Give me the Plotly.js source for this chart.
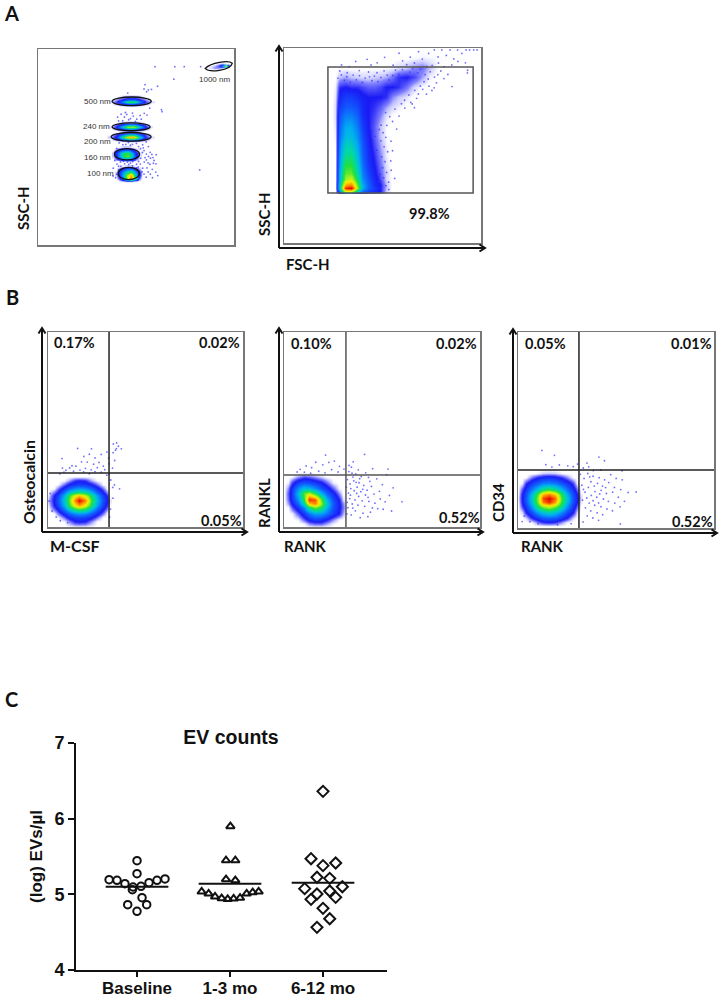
<!DOCTYPE html>
<html><head><meta charset="utf-8">
<script src="https://cdn.plot.ly/plotly-3.0.1.min.js"></script>
<style>html,body{margin:0;padding:0;background:#fff}</style></head>
<body><div id="chart" style="width:722px;height:1000px"></div>
<script>
// ---------- Panel C values ----------
const categories=['Baseline','1-3 mo','6-12 mo'];
const baselineX=[0,0,-.3,-.215,-.13,-.043,.129,.215,.301,.043,-.05,.054,-.100,.104,0];
const baselineY=[5.445,5.273,5.194,5.185,5.141,5.097,5.154,5.185,5.203,5.106,5.062,4.956,4.863,4.863,4.775];
const month1X=[1.004,.957,1.057,.957,1.057,.695,.77,.839,.91,.975,1.039,1.108,1.179,1.244,1.308];
const month1Y=[5.899,5.449,5.449,5.198,5.185,5.035,5.009,4.969,4.947,4.938,4.943,4.952,5.009,5.026,5.035];
const month6X=[2,1.871,2.136,2,1.935,2.072,1.803,2.208,1.935,2.072,1.871,2.136,2,2.072,1.935];
const month6Y=[6.361,5.471,5.414,5.379,5.225,5.211,5.075,5.101,5.004,5.044,4.934,4.960,4.815,4.678,4.564];
const meansC=[5.10,5.14,5.154];

// ---------- Gates ----------
const beadGates=[[92.2,91.1,6.9,2.0],[47.8,73.3,10,2.2],[47.5,60.3,9.7,2.0],[47.5,55.2,10.2,2.2],[45.4,46.3,6.4,2.9],[46.3,36.5,5.4,3.1]];
const gateA2=[22.3,96,25.6,90.3];
const quadB1=[31.3,27.7], quadB2=[31.6,26.7], quadB3=[31.1,29.6];

// ---------- Density grids (0-10) ----------
const d500x=[37.5,40,43,46,49,52,55,58], d500y=[71,72.2,73.3,74.4,75.6];
const d500z=[[0,0,.2,.5,.5,.2,0,0],[0,.4,1,2,2,1,.4,0],[.2,.8,2.5,5,5,2.6,.8,.2],[0,.4,1,2,2,1,.4,0],[0,0,.2,.4,.4,.2,0,0]];
const d240x=[37.5,40,43,46,49,52,55,57.5], d240y=[58.2,59.2,60.3,61.4,62.4];
const d240z=[[0,0,.3,.6,.6,.3,0,0],[0,.6,1.5,3,3,1.5,.5,0],[.2,1,3.5,6,6,3.5,1,.2],[0,.6,1.5,3,3,1.5,.5,0],[0,0,.3,.5,.5,.2,0,0]];
const d200x=[37,40,43,46,49,52,55,58], d200y=[52.9,54,55.2,56.4,57.5];
const d200z=[[0,0,.3,.6,.6,.3,0,0],[0,.8,2,3.5,3.5,1.8,.6,0],[.3,1.4,4.5,7.8,7.8,4,1,.2],[0,.8,2,3.2,3.2,1.8,.6,0],[0,0,.3,.6,.6,.2,0,0]];
const d160x=[38.5,40,42,44,46,48,50,52], d160y=[42.8,44,45.5,47,48.5,49.8];
const d160z=[[0,0,0,.3,.4,.3,0,0],[0,.6,1.5,2.5,2.8,1.8,.6,0],[.3,1.2,3,5,5.5,3.5,1.2,.2],[.3,1.2,3,4.8,5,3,1.2,.2],[0,.6,1.5,2,2.2,1.4,.5,0],[0,0,.1,.3,.3,.1,0,0]];
const d100x=[40,41.5,43.5,45.5,47.5,49.5,51.5,53], d100y=[32.8,34,35.5,37,38.5,40];
const d100z=[[0,0,.3,.8,.8,.3,0,0],[0,.8,2.5,6,8.5,5,.8,0],[.2,1.2,3,6,8,4,1.2,.2],[.2,1.2,2.6,4.2,5,3,1.2,.2],[0,.6,1.5,2.2,2.5,1.6,.5,0],[0,0,.1,.3,.3,.1,0,0]];
const d1000x=[85,88,90,92,94,95.5,98], d1000y=[89.5,90.5,91.5,92.5,93.2];
const d1000z=[[0,0,0,0,0,0,0],[0,.2,.5,.5,.3,.2,0],[0,.1,.3,.8,3,7,0],[0,0,0,.2,.5,.2,0],[0,0,0,0,0,0,0]];

const a2x=[24,26,28,31,34,37,40,43,46,49,52,55,58,62,66,70,74,78,82,86,90,94,98];
const a2y=[25,26,28,30,33,36,40,45,50,55,60,65,70,75,80,85,90,95,99];
const a2z=[
[0,0,0,0,0,0,0,0,0,0,0,0,0,0,0,0,0,0,0,0,0,0,0],
[0,0,2,6,6,3,2,1.5,1.2,1,.2,0,0,0,0,0,0,0,0,0,0,0,0],
[0,0,3.5,9.5,10,6,3,2,1.5,1,.3,0,0,0,0,0,0,0,0,0,0,0,0],
[0,0,3.5,8,8.5,5.5,3,2,1.3,1,.3,0,0,0,0,0,0,0,0,0,0,0,0],
[0,0,3,6,6.5,4.5,2.6,1.8,1.2,.8,.2,0,0,0,0,0,0,0,0,0,0,0,0],
[0,0,3,5.5,5.5,4,2.4,1.6,1.1,.7,.2,0,0,0,0,0,0,0,0,0,0,0,0],
[0,0,2.8,5,5,3.6,2.2,1.4,1,.6,.15,0,0,0,0,0,0,0,0,0,0,0,0],
[0,0,2.6,4.2,4.3,3.2,2,1.3,.9,.5,.1,0,0,0,0,0,0,0,0,0,0,0,0],
[0,.05,2.4,3.8,3.8,2.9,1.9,1.2,.8,.4,.1,0,0,0,0,0,0,0,0,0,0,0,0],
[0,.1,2.2,3.2,3.2,2.6,1.7,1.1,.7,.3,.05,0,0,0,0,0,0,0,0,0,0,0,0],
[0,.15,2,2.9,2.9,2.3,1.5,1,.7,.3,.05,0,0,0,0,0,0,0,0,0,0,0,0],
[0,.2,1.8,2.4,2.4,2,1.3,1,.8,.5,.15,.03,0,0,0,0,0,0,0,0,0,0,0],
[0,.2,1.5,1.9,1.9,1.7,1.2,1,.9,.7,.4,.2,.1,0,0,0,0,0,0,0,0,0,0],
[0,.15,1.2,1.5,1.5,1.3,1.1,1,1,1,.9,.5,.3,.15,0,0,0,0,0,0,0,0,0],
[0,.1,.9,1,.9,.9,.8,.7,.7,.8,1,1,.9,.6,.2,.03,0,0,0,0,0,0,0],
[0,.03,.3,.4,.3,.25,.2,.2,.25,.3,.4,.6,.9,1,.8,.4,.1,0,0,0,0,0,0],
[0,0,.03,.03,.02,.02,.02,.02,.03,.03,.05,.1,.2,.3,.5,.6,.3,.05,0,0,0,0,0],
[0,0,0,0,0,0,0,0,0,0,0,0,.02,.03,.05,.1,.08,.05,.05,.03,.02,0,0],
[0,0,0,0,0,0,0,0,0,0,0,0,0,0,0,0,0,0,0,0,0,0,0]];

const b1x=[0,3,5,8,11,14,16,19,22,25,28,30,32];
const b1y=[0,3,5,7,9,11,13.5,16,18,20,22,24,26];
const b1z=[
[0,0,0,0,0,0,0,0,0,0,0,0,0],
[0,0,0,.05,.5,1,1.1,1,.5,.05,0,0,0],
[0,0,.05,.6,1.2,1.5,1.6,1.5,1.2,.6,.05,0,0],
[0,.05,.6,1.3,2,2.6,2.8,2.6,2,1.3,.6,.05,0],
[0,.6,1.1,2.2,3.4,4.6,5,4.6,3.2,2,1.1,.5,0],
[.1,1,1.6,3,5,7,8,6.8,4.8,2.8,1.5,.9,.05],
[.3,1.1,1.9,3.4,5.5,8.5,10,8.5,5.3,3.2,1.8,1.1,.15],
[.1,1,1.6,3,5,6.8,7.5,6.5,4.6,2.8,1.5,.9,.05],
[0,.6,1.1,2.2,3.4,4.4,4.6,4.3,3.2,2,1.1,.5,0],
[0,.05,.6,1.3,2,2.5,2.7,2.5,2,1.3,.6,.05,0],
[0,0,.05,.6,1.1,1.4,1.5,1.4,1.1,.6,.05,0,0],
[0,0,0,.05,.4,.9,1,.9,.4,.05,0,0,0],
[0,0,0,0,0,0,0,0,0,0,0,0,0]];

const b2x=[0,2,4,7,10,13,16,19,22,25,28,30,32];
const b2y=[0,2,4,7,10,12,14,17,20,23,26,28];
const b2z=[
[0,0,0,0,0,0,0,0,0,0,0,0,0],
[0,0,0,0,.1,.5,.7,.7,.4,.1,0,0,0],
[0,0,0,.1,.7,1.2,1.5,1.4,1,.5,.1,0,0],
[0,0,.1,.7,1.4,2.2,2.9,2.8,2.2,1.5,1,.4,0],
[0,.05,.7,1.4,2.5,4.4,5.6,4.8,3,1.8,1.1,.6,.05],
[0,.4,1.1,2,4,7.5,8.5,6,3.4,1.9,1.1,.5,.05],
[0,.6,1.4,2.6,5,9.5,9,5.5,3,1.7,1,.2,0],
[0,.7,1.5,3.2,5.5,6.5,5,3.2,2,1.3,.5,.03,0],
[0,.5,1.4,2.6,3.4,3.2,2.6,1.9,1.3,.7,.1,0,0],
[0,.1,.8,1.5,1.8,1.7,1.4,1.1,.6,.1,0,0,0],
[0,0,.05,.4,.7,.6,.4,.2,0,0,0,0,0],
[0,0,0,0,0,0,0,0,0,0,0,0,0]];

const b3x=[0,2,4,7,10,13,16,19,22,25,28,30,32];
const b3y=[1,3,5,8,11,13,15,17,20,23,26,28,30];
const b3z=[
[0,0,0,0,0,0,0,0,0,0,0,0,0],
[0,0,0,.1,.6,.9,1,.9,.5,.1,0,0,0],
[0,0,.2,.9,1.4,1.8,1.9,1.8,1.4,.9,.2,0,0],
[0,.2,1,1.8,2.8,3.4,3.8,3.4,2.6,1.7,1,.2,0],
[0,.8,1.5,2.8,4.8,6,6.6,5.8,4.4,2.6,1.4,.7,0],
[.05,1,1.8,3.4,5.8,8.5,9.5,8,5.2,3.2,1.7,1,.1],
[.1,1.1,1.9,3.6,6,9.2,10,8.8,5.5,3.4,1.8,1.2,.15],
[.05,1,1.8,3.3,5.5,7.8,8.5,7.5,5,3,1.7,1,.1],
[0,.7,1.4,2.4,3.4,4.4,4.8,4.2,3.2,2.2,1.3,.6,0],
[0,.1,.9,1.5,2,2.4,2.5,2.3,1.9,1.4,.8,.1,0],
[0,0,.05,.6,1,1.2,1.3,1.2,.9,.5,.05,0,0],
[0,0,0,0,.1,.25,.3,.25,.1,0,0,0,0],
[0,0,0,0,0,0,0,0,0,0,0,0,0]];

// ---------- Sparse events ----------
const a1Dots=[[59.7,91],[69.8,91],[74.6,91],[83,91],[69.3,84.6],[61,81],[54.6,81.8],[56.3,79.1],[54.1,79.6],[57.9,79.4],[45.8,77.5],[55.4,78.2],[57,69.8],[63,69],[63.3,68],[82.5,38.3],[40.6,65.2],[42.4,66.7],[44.1,65.3],[45.3,66.6],[47.2,64.5],[48.6,65.8],[50.4,64.2],[52.1,66.1],[54.2,67.2],[55.6,66.3],[43.2,63.4],[46.3,63.9],[49.7,63.1],[52.7,64.2],[41.1,63.3],[44.6,67.6],[48.2,67.3],[43.3,51.2],[46.1,52.3],[50.2,51.8],[53.4,51.1],[55.2,52.6],[56.3,50.2],[41.4,52.1],[48.2,51.3],[52.3,49.1],[54.1,48.2],[55.3,46.4],[57.2,47.3],[58.1,46.2],[60.3,46.1],[57.4,44.3],[59.2,43.1],[55.3,43.4],[57.1,41.2],[60.2,41.4],[58.3,38.6],[60.1,37.2],[56.2,37.3],[54.1,36.2],[55.2,34.6],[58.4,34.3],[61.1,35.4],[53.4,39.2],[55.6,39.3],[54.2,42.3],[52.2,41.3],[39.2,43.1],[40.3,41.3],[38.4,39.2],[41.2,38.3],[40.1,36.1],[38.3,35.2],[39.6,34.3],[42.3,40.2],[44.2,41.4],[46.3,41.1],[48.2,40.3],[50.3,41.2],[44.4,39.2],[48.3,42.6],[39.1,47.3],[52.4,44.2],[40.2,49.3],[53.3,47.2],[42.1,42.4],[50.2,39.4],[43.6,42.7],[45.6,42.3],[47.2,41.8],[49.4,43.4],[51.3,42.6],[41.1,40.2],[43.1,38.9],[47.3,39.2],[51.1,39.8],[53.1,37.4],[57.3,36.1],[56.4,45.2],[58.7,44.6],[54.6,44.6],[56.2,41.9],[58.9,41.7],[53.7,49.6],[44.8,51.3],[47.1,50.9],[51.3,50.2]];
const a2Dots=[[29.2,91.3],[36.4,93.1],[42.2,94.2],[47.3,92.4],[51.1,95.2],[58.4,97.3],[60.2,93.4],[64.1,95.3],[68.3,98.1],[70.2,94.3],[73.4,97.2],[76.3,99],[78.2,95.4],[80.1,99],[82.4,96.2],[84.3,99],[86.2,94.4],[88.1,99],[90.3,97.2],[92.4,99],[94.2,99],[96.3,99],[98,99],[85.2,91.3],[88.3,93.1],[92.1,92.4],[78.4,92.3],[75.2,91.1],[81.3,90.4],[72.4,90.6],[66.2,92.3],[62.3,91.4],[55.4,91.2],[44.2,91.3],[33.1,90.4],[28.3,88.2],[32.1,87.3],[38.2,88.4],[43.4,85.2],[47.2,87.3],[52.4,86.1],[93.2,88.6],[93.1,87.2],[85.3,80.2],[81.2,84.3],[77.4,82.1],[75.1,78.2],[72.3,76.3],[69.2,80.4],[67.3,74.2],[64.4,72.1],[61.3,69.2],[66.2,69.4],[58.4,65.1],[55.1,62.3],[57.2,58.4],[54.3,52.2],[55.1,47.3],[54.2,42.1],[54.4,37.3],[53.1,31.2],[56.2,33.1],[49.3,60.4],[78.1,86.3],[83.2,86.4],[73.2,84.1],
[27.4,84.6],[29.1,86.2],[30.6,83.4],[31.9,85.3],[33.7,82.4],[35.1,86.1],[36.7,83.7],[38.3,85.8],[39.8,82.3],[41.2,84.6],[42.9,87.7],[44.6,83.2],[45.9,85.6],[47.7,82.8],[49.2,84.9],[50.8,88.3],[53.3,83.6],[55.2,85.9],[56.6,88.7],[58.3,86.4],[60.1,88.9],[61.7,85.2],[63.9,87.6],[65.3,89.4],[67.8,87.2],[69.3,89.1],[71.6,86.3],[74.2,87.8],[76.4,85.1],[79.6,88.2],[66.4,78.3],[68.2,76.4],[70.4,78.8],[73.6,80.4],[71.1,82.7],[76.2,79.6],[63.4,75.9],[61.2,73.2],[59.6,71.4],[65.1,71.3],[56.3,68.7],[53.7,64.8],[51.6,66.9],[52.2,60.3],[50.3,56.6],[51.7,54.2],[49.2,52.4],[50.8,49.3],[52.6,46.8],[49.6,44.2],[51.3,41.7],[50.1,38.6],[52.1,36.2],[48.7,35.2],[50.6,33.4],[47.9,31.3],[51.7,29.4],[49.3,28.2],[53.2,27.4],[47.1,47.6],[46.4,54.7],[48.3,58.2]];
const b1Dots=[[33.5,42.6],[35.2,43.1],[36.1,41.4],[35.1,40.2],[37.6,40.1],[34.6,39.4],[33.4,38.1],[15.2,40.3],[22.3,40.1],[7.2,35.1],[18.4,36.2],[21.2,37.3],[24.1,35.4],[27.3,37.2],[30.2,38.4],[31.1,35.3],[26.2,33.1],[23.4,32.2],[20.1,33.3],[17.2,33.4],[14.3,31.2],[11.1,30.3],[7.4,30.2],[9.2,29.1],[12.3,31.4],[19.2,30.1],[22.1,29.3],[25.3,30.4],[28.4,31.2],[31.2,32.4],[16.4,29.2],[13.1,28.6],[18.3,28.2],[21.2,27.3],[24.1,28.4],[27.3,28.1],[29.1,29.4],[33.1,30.2],[34.2,34.1],[31.3,27.2],[6.1,27.3],[8.2,28.1],[30.2,26.6],[34.1,21.6],[36.7,19.6],[33.3,14.8],[32.1,9.2],[31.6,5.1],[33.2,20.3],[32.2,24.1],[1.1,17.2],[.6,13.3],[2.1,8.2],[4.2,5.1],[6.3,3.2],[10.1,2.2]];
const b2Dots=[[32.4,24.3],[33.7,22.1],[35.2,25.6],[36.8,22.9],[34.1,19.7],[32.9,17.4],[35.8,18.6],[37.3,20.4],[38.6,24.8],[39.2,18.1],[40.7,21.3],[41.6,16.4],[38.1,15.7],[36.2,13.9],[33.5,14.6],[34.8,11.8],[32.6,9.9],[37.7,11.2],[39.9,13.4],[41.2,10.6],[43.3,13.1],[42.4,18.9],[44.6,20.8],[45.9,16.9],[43.8,23.4],[47.3,24.7],[46.4,12.2],[48.7,18.3],[50.2,21.7],[49.1,14.4],[51.6,12.9],[53.8,16.2],[47.8,9.4],[44.1,7.6],[40.3,7.1],[36.4,8.3],[34.3,6.2],[38.9,4.8],[42.8,5.3],[50.6,9.1],[54.9,8.2],[60.2,12.9],[52.3,26.8],[55.7,20.1],[53.1,29.7],[45.2,29.9],[41.7,27.8],[37.9,29.3],[34.4,30.7],[36.6,27.2],[33.1,28.4],[30.6,29.7],[28.3,31.1],[25.7,33.8],[22.9,33.1],[19.8,31.9],[16.2,33.2],[14.1,30.4],[11.3,31.3],[8.2,29.6],[6.7,28.2],[10.4,28.1],[13.6,27.6],[17.7,28.6],[20.9,27.8],[24.3,29.4],[27.6,28.2],[21.2,36.9],[41.1,37.2],[35.3,33.4],[33.2,31.6],[39.4,25.9],[35.6,23.7],[43.1,25.4],[33.9,16.3],[37.1,17.2],[40.2,19.3],[38.3,22.7],[42.9,15.2],[35.1,9.7],[32.2,12.6],[45.1,9.8],[34.7,27.6],[31.8,20.4],[32.1,6.7]];
const b3Dots=[[12.2,39.6],[18.6,37.1],[41.3,36.2],[44.1,34.3],[35.2,33.1],[30.4,32.6],[14.2,32.3],[17.3,31.1],[21.1,32.2],[25.4,31.7],[28.2,31.3],[33.3,30.6],[36.1,31.2],[38.4,29.3],[42.2,29.6],[53.1,29.2],[35.6,27.8],[38.3,26.4],[41.4,25.7],[44.2,24.6],[47.3,27.2],[50.1,25.3],[53.2,24.6],[33.7,25.3],[37.2,23.6],[40.6,22.8],[43.1,21.4],[46.3,23.2],[49.2,20.7],[52.4,19.6],[56.2,18.1],[60.3,18.4],[32.6,21.8],[35.9,20.7],[39.3,18.6],[42.4,19.2],[45.1,17.6],[48.3,18.3],[51.2,15.7],[54.3,13.6],[34.2,18.3],[37.4,16.6],[40.2,15.7],[43.6,14.8],[46.1,13.6],[49.4,12.7],[52.1,10.8],[32.9,14.2],[36.3,12.7],[39.1,11.6],[42.3,10.9],[45.4,9.7],[48.2,8.8],[34.4,10.3],[37.1,8.7],[40.4,7.7],[43.2,6.8],[35.3,6.2],[38.2,5.1],[41.1,3.9],[52.2,2.1],[6.1,3.2],[10.3,2.2],[20.2,1.6],[27.1,2.2],[33.2,3.1],[2.1,3.3],[3.2,6.1],[31.8,27.4],[33.4,19.7],[36.6,26.1],[38.9,21.4],[41.7,17.4],[44.7,20.6],[35.1,15.3],[38.3,13.9],[41.1,12.8]];

// ---------- Page layout in pixels ----------
const W=722,H=1000;
const boxes=[[38,234,49,245],[284,481,48,243],[48,243,332,527],[284,480,332,527],[518,714,332,528]];
const jet=[[0,'rgba(255,255,255,0)'],[.012,'rgba(190,190,255,.35)'],[.05,'rgba(110,110,255,.85)'],[.1,'#1a1af5'],[.2,'#1060ff'],[.3,'#00b0f0'],[.4,'#00d8a8'],[.5,'#20e040'],[.6,'#a0f020'],[.7,'#f8f000'],[.85,'#ff8000'],[1,'#e80000']];
const xPaper=p=>p/W, yPaper=p=>1-p/H;

const layout={width:W,height:H,margin:{l:0,r:0,t:0,b:0},paper_bgcolor:'#fff',plot_bgcolor:'rgba(0,0,0,0)',showlegend:false,hovermode:false,
 title:{text:'<b>EV counts</b>',x:231/W,xanchor:'center',y:yPaper(737),yanchor:'middle',font:{family:'Liberation Sans',size:19.5,color:'#111'}},
 shapes:[],annotations:[]};
boxes.forEach((b,i)=>{const n=i+1;
 const base={range:[0,100],showticklabels:false,ticks:'',showgrid:false,zeroline:false,showline:true,mirror:true,linecolor:'#777',linewidth:1.5,fixedrange:true};
 layout['xaxis'+n]={...base,domain:[xPaper(b[0]),xPaper(b[1])],anchor:'y'+n};
 layout['yaxis'+n]={...base,domain:[yPaper(b[3]),yPaper(b[2])],anchor:'x'+n};
});
layout.xaxis6={domain:[xPaper(76),xPaper(387)],anchor:'y6',range:[-.656,2.688],tickvals:[0,1,2],ticktext:categories,ticks:'outside',ticklen:5,tickwidth:2,tickcolor:'#111',ticklabelstandoff:-3,showgrid:false,zeroline:false,showline:true,linecolor:'#111',linewidth:2,fixedrange:true,tickfont:{family:'Liberation Sans',size:17,color:'#111',weight:700}};
layout.yaxis6={domain:[yPaper(970),yPaper(743)],anchor:'x6',range:[4,7],tickvals:[4,5,6,7],ticks:'outside',ticklen:6,tickwidth:2,tickcolor:'#111',showgrid:false,zeroline:false,showline:true,linecolor:'#111',linewidth:2,fixedrange:true,tickfont:{family:'Liberation Sans',size:18,color:'#111',weight:700},title:{text:'<b>(log) EVs/µl</b>',standoff:7,font:{family:'Liberation Sans',size:17,color:'#111'}}};

// ---------- Traces ----------
const heat=(x,y,z,n)=>({type:'heatmap',x,y,z,xaxis:'x'+n,yaxis:'y'+n,zmin:0,zmax:10,zsmooth:'best',colorscale:jet,showscale:false,hoverinfo:'skip'});
const dots=(pts,n)=>({type:'scatter',mode:'markers',x:pts.map(p=>p[0]),y:pts.map(p=>p[1]),xaxis:'x'+n,yaxis:'y'+n,marker:{size:1.8,color:'rgba(50,50,255,.7)'},hoverinfo:'skip'});
const evs=(x,y,sym,size,name)=>({type:'scatter',mode:'markers',name,x,y,xaxis:'x6',yaxis:'y6',cliponaxis:false,marker:{symbol:sym,size,color:'rgba(255,255,255,0)',line:{color:'#111',width:2}}});
const meanLine=(i)=>({type:'scatter',mode:'lines',x:[i-.337,i+.337],y:[meansC[i],meansC[i]],xaxis:'x6',yaxis:'y6',line:{color:'#111',width:2}});

const data=[
 heat(d500x,d500y,d500z,1),heat(d240x,d240y,d240z,1),heat(d200x,d200y,d200z,1),heat(d160x,d160y,d160z,1),heat(d100x,d100y,d100z,1),heat(d1000x,d1000y,d1000z,1),dots(a1Dots,1),
 heat(a2x,a2y,a2z,2),dots(a2Dots,2),
 heat(b1x,b1y,b1z,3),dots(b1Dots,3),
 heat(b2x,b2y,b2z,4),dots(b2Dots,4),
 heat(b3x,b3y,b3z,5),dots(b3Dots,5),
 meanLine(0),meanLine(1),meanLine(2),
 evs(baselineX,baselineY,'circle',7.5,categories[0]),
 evs(month1X,month1Y,'triangle-up',7.5,categories[1]),
 evs(month6X,month6Y,'diamond',8.5,categories[2])
];

// ---------- Gates as shapes ----------
const line=(c,w)=>({color:c,width:w});
beadGates.forEach((g,i)=>{
 if(i===0){ // tilted oval of the 1000 nm gate
  const [cx,cy,rx]=g;
  layout.shapes.push({type:'path',xref:'x1',yref:'y1',line:line('#111',1.3),
   path:`M${cx-rx},${cy-1} C${cx-rx+3},${cy+1.8} ${cx+rx-2},${cy+3.4} ${cx+rx},${cy+1.6} C${cx+rx-1},${cy-2.2} ${cx-rx+2},${cy-3.2} ${cx-rx},${cy-1} Z`});
 } else {
  layout.shapes.push({type:'circle',xref:'x1',yref:'y1',x0:g[0]-g[2],x1:g[0]+g[2],y0:g[1]-g[3],y1:g[1]+g[3],line:line('#111',1.3)});
 }
});
layout.shapes.push({type:'rect',xref:'x2',yref:'y2',x0:gateA2[0],x1:gateA2[1],y0:gateA2[2],y1:gateA2[3],line:line('#555',1.5)});
[[quadB1,3,'#222'],[quadB2,4,'#555'],[quadB3,5,'#222']].forEach(([q,n,c])=>{
 layout.shapes.push({type:'line',xref:'x'+n,yref:'y'+n,x0:q[0],x1:q[0],y0:0,y1:100,line:line(c,1.5)});
 layout.shapes.push({type:'line',xref:'x'+n,yref:'y'+n,x0:0,x1:100,y0:q[1],y1:q[1],line:line(c,1.5)});
});

// ---------- Text ----------
const lato={family:'Lato',size:14.5,color:'#111',weight:700};
const addText=(t,x,y,font,rot)=>layout.annotations.push({text:t,xref:'paper',yref:'paper',x:xPaper(x),y:yPaper(y),xanchor:'center',yanchor:'middle',showarrow:false,font,textangle:rot||0});
addText('A',11,13,{...lato,size:20});addText('B',12,297,{...lato,size:20});addText('C',11,699,{...lato,size:20});
[['SSC-H',23,208,-90,15],['SSC-H',264,214,-90,15],['FSC-H',308,264,0,15],['99.8%',429,214,0,14.5],
 ['Osteocalcin',28,482,-90,16],['M-CSF',75,545,0,16],['0.17%',74,342,0,14.5],['0.02%',220,342,0,14.5],['0.05%',221,520,0,14.5],
 ['RANKL',264,503,-90,15],['RANK',305,546,0,15],['0.10%',311,343,0,14.5],['0.02%',456,343,0,14.5],['0.52%',459,517,0,14.5],
 ['CD34',498,503,-90,15],['RANK',542,546,0,15],['0.05%',545,343,0,14.5],['0.01%',691,343,0,14.5],['0.52%',692,521,0,14.5]
].forEach(t=>addText(t[0],t[1],t[2],{...lato,size:t[4]},t[3]));
const nmFont={family:'Liberation Sans',size:8,color:'#333'};
[['500 nm',97,102],['240 nm',96,126],['200 nm',97,141],['160 nm',97,157],['100 nm',100,174],['1000 nm',214,80]].forEach(t=>addText(t[0],t[1],t[2],nmFont));

// ---------- Arrow axes ----------
[[279,248,46,485],[42,532,328,247],[279,532,328,483],[513,533,329,717]].forEach(([x,y,top,right])=>{
 const s=(px,py)=>xPaper(px)+','+yPaper(py);
 const st={type:'path',xref:'paper',yref:'paper',line:line('#111',2)};
 layout.shapes.push({...st,path:`M${s(x,y)} L${s(x,top)}`});
 layout.shapes.push({...st,path:`M${s(x,y)} L${s(right,y)}`});
 layout.shapes.push({...st,path:`M${s(x-3.5,top+5.5)} L${s(x,top)} L${s(x+3.5,top+5.5)}`});
 layout.shapes.push({...st,path:`M${s(right-5.5,y-3.5)} L${s(right,y)} L${s(right-5.5,y+3.5)}`});
});

Plotly.newPlot('chart',data,layout,{displayModeBar:false,staticPlot:true});
</script></body></html>
